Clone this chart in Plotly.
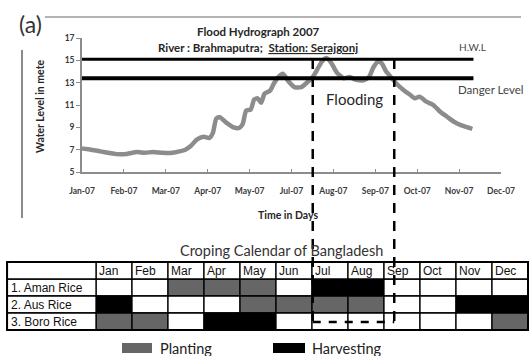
import plotly.graph_objects as go

# ---------------- data ----------------
# Daily water level at Serajgonj (Brahmaputra), 2007 — day of year vs metres
days = [0, 8, 16, 24, 30, 39, 48, 55, 62, 70, 77, 85, 90, 95, 100, 106, 111, 114,
        117, 120, 126, 132, 137, 140, 143, 147, 150, 153, 156, 159, 164, 167, 171,
        175, 180, 185, 191, 197, 201, 205, 209, 213, 217, 222, 228, 233, 239, 245,
        250, 254, 258, 261, 265, 270, 274, 280, 286, 290, 294, 300, 306, 312, 318,
        324, 330, 336, 340]
level = [7.1, 7.0, 6.85, 6.7, 6.6, 6.62, 6.78, 6.72, 6.8, 6.72, 6.7, 6.85, 7.0,
         7.35, 7.9, 8.15, 8.05, 8.5, 9.8, 9.9, 9.4, 9.0, 8.95, 9.3, 10.5, 10.6,
         11.5, 11.6, 11.2, 12.0, 12.3, 12.9, 13.5, 13.8, 13.1, 12.6, 12.6, 13.1,
         13.5, 14.2, 14.9, 15.2, 14.8, 13.9, 13.4, 13.5, 13.25, 13.2, 13.5, 14.4,
         14.9, 14.75, 14.0, 13.4, 12.9, 12.35, 11.9, 11.6, 11.75, 11.3, 11.0, 10.4,
         9.95, 9.5, 9.2, 9.0, 8.85]

hwl_level = 15.1
danger_level = 13.4
flood_start_day = 201
flood_end_day = 272
line_end_day = 341

x_tick_days = [0, 36.5, 73, 109.5, 146, 182.5, 219, 255.5, 292, 328.5, 365]
x_tick_labels = ["Jan-07", "Feb-07", "Mar-07", "Apr-07", "May-07", "Jul-07",
                 "Aug-07", "Sep-07", "Oct-07", "Nov-07", "Dec-07"]
y_ticks = [5, 7, 9, 11, 13, 15, 17]

# Cropping calendar: P = planting, H = harvesting, "" = nothing
months = ["Jan", "Feb", "Mar", "Apr", "May", "Jun", "Jul", "Aug", "Sep", "Oct", "Nov", "Dec"]
crops = ["1. Aman Rice", "2. Aus Rice", "3. Boro Rice"]
aman_rice = ["", "", "P", "P", "P", "", "H", "H", "", "", "", ""]
aus_rice = ["H", "", "", "", "P", "P", "P", "P", "", "", "H", "H"]
boro_rice = ["P", "P", "", "H", "H", "", "", "", "", "", "", "P"]
calendar = [aman_rice, aus_rice, boro_rice]

# ---------------- styling helpers ----------------
W, H = 530, 356
GRAY = "#666666"
LINE_GRAY = "#8c8c8c"
TXT = "#262626"
FONT = "Lato, 'Open Sans', sans-serif"
TFONT = "'Liberation Sans', Arial, sans-serif"
FILL = {"P": GRAY, "H": "#000000", "": "#ffffff"}


def fx(px):
    return px / W


def fy(py):
    return 1 - py / H


fig = go.Figure()

# Hydrograph curve
fig.add_trace(go.Scatter(
    x=days, y=level, mode="lines",
    line=dict(color=LINE_GRAY, width=4.5, shape="spline", smoothing=0.6),
    xaxis="x", yaxis="y", showlegend=False, hoverinfo="skip"))

shapes = []
annotations = []

# H.W.L and danger level lines
shapes.append(dict(type="line", xref="x", yref="y", x0=0, x1=line_end_day,
                   y0=hwl_level, y1=hwl_level, line=dict(color="#000", width=3)))
shapes.append(dict(type="line", xref="x", yref="y", x0=0, x1=line_end_day,
                   y0=danger_level, y1=danger_level, line=dict(color="#000", width=4)))

# Frame fragments around panel (a)
shapes.append(dict(type="line", xref="paper", yref="paper", x0=fx(45), x1=fx(521),
                   y0=fy(17), y1=fy(17), line=dict(color="#9a9a9a", width=1.5)))
shapes.append(dict(type="line", xref="paper", yref="paper", x0=fx(22), x1=fx(22),
                   y0=fy(50), y1=fy(218), line=dict(color="#8a8a8a", width=2)))

# Cropping calendar grid
for r, row in enumerate(calendar):
    for m, code in enumerate(row):
        shapes.append(dict(type="rect", xref="x2", yref="y2", x0=m, x1=m + 1,
                           y0=r + 1, y1=r + 2, fillcolor=FILL[code],
                           line=dict(color="#000", width=1.3), layer="below"))
    shapes.append(dict(type="rect", xref="x2", yref="y2", x0=-2.47, x1=0,
                       y0=r + 1, y1=r + 2, fillcolor="#fff",
                       line=dict(color="#000", width=1.3), layer="below"))
    annotations.append(dict(xref="x2", yref="y2", x=-2.43, y=r + 1.55, text=crops[r],
                            showarrow=False, xanchor="left", yanchor="middle",
                            font=dict(family=TFONT, size=12, color="#111")))
for m, name in enumerate(months):
    shapes.append(dict(type="rect", xref="x2", yref="y2", x0=m, x1=m + 1, y0=0, y1=1,
                       fillcolor="#fff", line=dict(color="#000", width=1.3), layer="below"))
    annotations.append(dict(xref="x2", yref="y2", x=m + 0.04, y=0.55, text=name,
                            showarrow=False, xanchor="left", yanchor="middle",
                            font=dict(family=TFONT, size=12, color="#111")))
shapes.append(dict(type="rect", xref="x2", yref="y2", x0=-2.47, x1=0, y0=0, y1=1,
                   fillcolor="#fff", line=dict(color="#000", width=1.3), layer="below"))
shapes.append(dict(type="rect", xref="x2", yref="y2", x0=-2.47, x1=12, y0=0, y1=4,
                   line=dict(color="#000", width=2)))

# Flooding period box spanning hydrograph and calendar
dash = dict(color="#000", width=2.5, dash="10px,8px")
for d in (flood_start_day, flood_end_day):
    shapes.append(dict(type="line", xref="x", yref="paper", x0=d, x1=d,
                       y0=fy(59), y1=fy(322), line=dash))
shapes.append(dict(type="line", xref="x", yref="paper", x0=flood_start_day,
                   x1=flood_end_day, y0=fy(322), y1=fy(322),
                   line=dict(color="#000", width=2.5, dash="8px,8px")))

# Legend swatches
shapes.append(dict(type="rect", xref="paper", yref="paper", x0=fx(122), x1=fx(152),
                   y0=fy(353), y1=fy(343), fillcolor=GRAY, line=dict(width=0)))
shapes.append(dict(type="rect", xref="paper", yref="paper", x0=fx(273), x1=fx(305),
                   y0=fy(353), y1=fy(343), fillcolor="#000", line=dict(width=0)))


def label(text, px, py, size, bold=False, xanchor="center", angle=0, family=FONT, color=TXT):
    annotations.append(dict(xref="paper", yref="paper", x=fx(px), y=fy(py),
                            text=f"<b>{text}</b>" if bold else text, showarrow=False,
                            xanchor=xanchor, yanchor="middle", textangle=angle,
                            font=dict(family=family, size=size, color=color)))


label("(a)", 30, 24, 23, color="#333")
label("Flood Hydrograph 2007", 258, 31, 11.5, bold=True)
label("River : Brahmaputra;  <u>Station: Serajgonj</u>", 258, 47, 11.5, bold=True)
label("Water Level in mete", 40, 106, 10.5, bold=True, angle=-90)
label("Time in Days", 288, 215, 10.5, bold=True)
label("H.W.L", 457, 47, 10, xanchor="left", color="#444")
label("Danger Level", 456, 89, 11.5, xanchor="left", color="#444")
label("Flooding", 354, 99, 15)
label("Croping Calendar of Bangladesh", 281, 250, 14.5, color="#333")
label("Planting", 158, 348, 14.5, xanchor="left", color="#222")
label("Harvesting", 310, 348, 14.5, xanchor="left", color="#222")

fig.update_layout(
    width=W, height=H, margin=dict(l=0, r=0, t=0, b=0, pad=0, autoexpand=False),
    paper_bgcolor="#ffffff", plot_bgcolor="rgba(0,0,0,0)",
    showlegend=False,
    xaxis=dict(domain=[fx(82), fx(501)], range=[0, 365], tickvals=x_tick_days,
               ticktext=[f"<b>{t}</b>" for t in x_tick_labels],
               showline=True, linecolor=LINE_GRAY, linewidth=1.5, ticks="inside",
               ticklen=3, tickcolor=LINE_GRAY, showgrid=False, zeroline=False,
               tickfont=dict(family=FONT, size=8.5, color="#3a3a3a"),
               ticklabelstandoff=10, anchor="y", automargin=False),
    yaxis=dict(domain=[fy(172), fy(38)], range=[5, 17], tickvals=y_ticks,
               ticktext=[f"<b>{t}</b>" for t in y_ticks],
               showline=True, linecolor=LINE_GRAY, linewidth=1.5, ticks="outside",
               ticklen=4, tickcolor=LINE_GRAY, showgrid=False, zeroline=False,
               tickfont=dict(family=FONT, size=8.5, color="#3a3a3a"), anchor="x",
               automargin=False),
    xaxis2=dict(domain=[fx(5), fx(530)], range=[(5 - 96) / 36, (530 - 96) / 36],
                visible=False, anchor="y2", automargin=False),
    yaxis2=dict(domain=[fy(332), fy(260)], range=[(332 - 262) / 17, (260 - 262) / 17],
                visible=False, anchor="x2", automargin=False),
    shapes=shapes, annotations=annotations,
)

fig.write_html("out.html")
